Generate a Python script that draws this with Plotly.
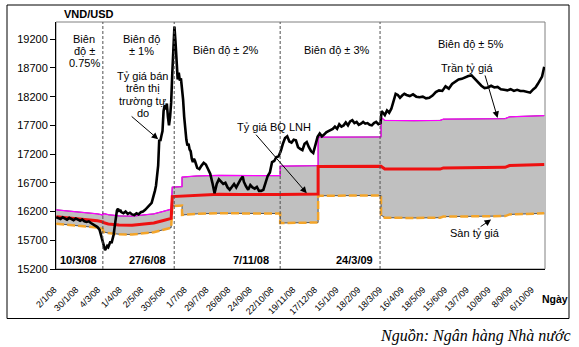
import plotly.graph_objects as go

# ---------------------------------------------------------------------------
# Data: VND/USD, trading sessions counted from 2/1/2008 (session 0)
# ---------------------------------------------------------------------------

# Free-market selling rate (Tỷ giá bán trên thị trường tự do)
free_day = [0, 2, 4, 6, 8, 10, 12, 14, 16, 18, 20, 22, 24, 26, 28, 30, 32, 34, 36, 38,
            40, 41, 42, 43, 44, 45, 46, 47, 48, 49, 50, 51, 52, 53, 54, 55, 56, 57, 58, 59,
            60, 62, 64, 66, 68, 70, 72, 74, 76, 78, 80, 82, 84, 86, 87, 88, 89, 90, 91, 92,
            93, 94, 95, 96, 97, 98, 99, 100, 101, 102, 103, 104, 105, 106, 107, 108, 109, 110, 111, 112,
            113, 114, 115, 116, 117, 118, 119, 120, 121, 122, 123, 124, 125, 126, 127, 128, 130, 132, 134, 136,
            138, 140, 142, 144, 145, 146, 147, 148, 150, 152, 154, 156, 158, 160, 162, 164, 166, 168, 170, 172,
            173, 175, 177, 179, 181, 183, 185, 187, 189, 191, 193, 195, 197, 199, 201, 203, 205, 207, 209, 211,
            213, 215, 217, 219, 221, 223, 225, 227, 229, 231, 233, 235, 237, 239, 241, 243, 245, 247, 249, 251,
            253, 255, 257, 259, 261, 263, 265, 267, 269, 271, 273, 275, 277, 279, 281, 283, 285, 287, 289, 291,
            293, 295, 297, 299, 300, 301, 303, 305, 307, 309, 311, 313, 315, 317, 319, 321, 323, 326, 329, 332,
            335, 338, 341, 344, 347, 350, 353, 356, 359, 362, 365, 368, 371, 374, 377, 380, 383, 386, 389, 392,
            395, 398, 401, 404, 407, 410, 413, 416, 419, 422, 425, 428, 431, 434, 437, 440, 442, 444, 446, 448,
            450]
free_rate = [16100, 16090, 16070, 16100, 16080, 16060, 16090, 16070, 16050, 16080, 16060, 16040, 16060, 16030, 16020, 16030, 16000, 15980, 15960, 15930,
             15880, 15800, 15740, 15680, 15590, 15530, 15560, 15600, 15580, 15640, 15680, 15650, 15720, 15800, 15950, 16100, 16220, 16250, 16200, 16230,
             16190, 16170, 16200, 16160, 16180, 16150, 16140, 16170, 16150, 16190, 16200, 16230, 16270, 16300, 16320, 16350, 16420, 16480, 16560, 16650,
             16800, 17000, 17450, 17430, 17520, 17600, 17950, 18050, 17980, 18080, 17850, 17700, 17850, 18100, 18600, 19150, 19420, 19150, 18800, 18500,
             18620, 18480, 18520, 18350, 18150, 17850, 17550, 17450, 17350, 17380, 17280, 17250, 17120, 17060, 17120, 17080, 16960, 16940, 17000, 17050,
             17020, 16930, 16860, 16700, 16580, 16520, 16600, 16680, 16760, 16720, 16680, 16700, 16620, 16580, 16640, 16680, 16620, 16700, 16760, 16810,
             16720, 16640, 16580, 16660, 16620, 16600, 16630, 16560, 16560, 16580, 16700, 16820, 16880, 17060, 17080, 17150, 17160, 17250, 17380, 17480,
             17510, 17420, 17400, 17450, 17440, 17320, 17290, 17270, 17380, 17410, 17320, 17250, 17220, 17380, 17500, 17560, 17510, 17540, 17580, 17600,
             17620, 17640, 17680, 17640, 17720, 17680, 17700, 17750, 17700, 17770, 17790, 17740, 17760, 17710, 17730, 17760, 17730, 17740, 17710, 17700,
             17740, 17760, 17720, 17740, 17950, 17930, 17880, 17960, 17920, 17990, 18120, 18250, 18230, 18180, 18220, 18250, 18230, 18210, 18240, 18200,
             18190, 18200, 18170, 18180, 18220, 18280, 18310, 18300, 18380, 18340, 18420, 18460, 18500, 18510, 18540, 18560, 18570, 18510, 18460, 18390,
             18350, 18360, 18390, 18360, 18370, 18330, 18320, 18310, 18330, 18300, 18320, 18300, 18300, 18290, 18270, 18330, 18360, 18420, 18480, 18550,
             18720]

# Interbank average rate (Tỷ giá BQ LNH) and the permitted band around it (%)
ib_day = [0, 10, 20, 30, 38, 43, 43, 48, 58, 70, 80, 90, 98, 106, 107, 116, 116, 130, 150, 170,
          190, 206.5, 206.5, 225, 241.5, 241.5, 260, 280, 299.5, 299.5, 303, 330, 354, 357, 380, 414,
          418, 440, 450]
ib_rate = [16110, 16090, 16080, 16060, 16040, 16020, 16010, 15985, 15965, 15960, 15975, 16000, 16040, 16080, 16460, 16470, 16470, 16490, 16500, 16495,
           16490, 16495, 16495, 16500, 16505, 16985, 16985, 16990, 16990, 16990, 16940, 16935, 16940, 16960, 16965, 16970,
           17000, 17010, 17020]
band_pct = [0.75, 0.75, 0.75, 0.75, 0.75, 0.75, 1, 1, 1, 1, 1, 1, 1, 1, 1, 1, 2, 2, 2, 2,
            2, 2, 3, 3, 3, 3, 3, 3, 3, 5, 5, 5, 5, 5, 5, 5,
            5, 5, 5]

# Ceiling / floor of the band (Trần / Sàn tỷ giá)
ceil_rate = [r * (1 + b / 100) for r, b in zip(ib_rate, band_pct)]
floor_rate = [r * (1 - b / 100) for r, b in zip(ib_rate, band_pct)]

# Dates on which the band was changed
regime_day = [43, 108.8, 206.5, 298.6]
regime_date = ["10/3/08", "27/6/08", "7/11/08", "24/3/09"]

# Category labels, one every 20 sessions
tick_day = list(range(0, 441, 20))
tick_text = ["2/1/08", "30/1/08", "4/3/08", "1/4/08", "2/5/08", "30/5/08", "1/7/08",
             "29/7/08", "26/8/08", "24/9/08", "22/10/08", "19/11/08", "17/12/08", "15/1/09",
             "18/2/09", "18/3/09", "16/4/09", "18/5/09", "15/6/09", "13/7/09", "10/8/09",
             "8/9/09", "6/10/09"]

y_ticks = list(range(15200, 19201, 500))

# ---------------------------------------------------------------------------
# Layout helpers (plot area in pixels)
# ---------------------------------------------------------------------------
W, H = 579, 347
L, R, T, B = 56, 545, 22, 269
SANS = "Arial, Liberation Sans, sans-serif"


def paper(x, y):
    return (x - L) / (R - L), (B - y) / (B - T)


fig = go.Figure()

# grey band between floor and ceiling
fig.add_trace(go.Scatter(x=ib_day, y=floor_rate, mode="lines",
                         line=dict(color="#303030", width=0.8), hoverinfo="skip"))
fig.add_trace(go.Scatter(x=ib_day, y=ceil_rate, mode="lines",
                         line=dict(color="#303030", width=0.8),
                         fill="tonexty", fillcolor="#c0c0c0", hoverinfo="skip"))
# ceiling and floor lines
fig.add_trace(go.Scatter(x=ib_day, y=ceil_rate, mode="lines",
                         line=dict(color="#ff00ff", width=1.3), name="Trần tỷ giá"))
fig.add_trace(go.Scatter(x=ib_day, y=floor_rate, mode="lines",
                         line=dict(color="#f4a52a", width=2.5, dash="8px,3px"), name="Sàn tỷ giá"))
# interbank average rate
fig.add_trace(go.Scatter(x=ib_day, y=ib_rate, mode="lines",
                         line=dict(color="#ee1111", width=3), name="Tỷ giá BQ LNH"))
# free-market rate
fig.add_trace(go.Scatter(x=free_day, y=free_rate, mode="lines",
                         line=dict(color="#000000", width=2.6), name="Tỷ giá tự do"))

shapes = []
# plot-area frame (top/right), outer frame
shapes.append(dict(type="rect", xref="paper", yref="paper", x0=0, x1=1, y0=0, y1=1,
                   line=dict(color="#808080", width=1), layer="below"))
ox0, oy0 = paper(7, 318.5)
ox1, oy1 = paper(569, 5)
shapes.append(dict(type="rect", xref="paper", yref="paper", x0=ox0, x1=ox1, y0=oy0, y1=oy1,
                   line=dict(color="#000000", width=1)))
# dashed separators at band changes
for d in regime_day:
    shapes.append(dict(type="line", xref="x", yref="paper", x0=d, x1=d, y0=0, y1=1,
                       line=dict(color="#505050", width=1, dash="3px,2px")))

annotations = []


def text(s, x, y, size=11, bold=False, xanchor="center", family=SANS, italic=False):
    px_, py_ = paper(x, y)
    if bold:
        s = "<b>" + s + "</b>"
    if italic:
        s = "<i>" + s + "</i>"
    annotations.append(dict(text=s, xref="paper", yref="paper", x=px_, y=py_,
                            xanchor=xanchor, yanchor="middle", showarrow=False,
                            font=dict(family=family, size=size, color="black")))


# band labels
text("Biên", 84, 38.5)
text("độ ±", 84, 51)
text("0.75%", 84, 63.5)
text("Biên độ", 141, 38.5)
text("± 1%", 141, 51)
text("Biên độ ± 2%", 225.5, 50)
text("Biên độ ± 3%", 336.7, 50)
text("Biên độ ± 5%", 471, 43.5)
# series callouts
for i, s in enumerate(["Tỷ giá bán", "trên thị", "trường tự", "do"]):
    text(s, 142.5, 76 + 12.4 * i)
text("Trần tỷ giá", 467, 68.5)
text("Tỷ giá BQ LNH", 274, 127)
text("Sàn tỷ giá", 475, 233)
# axis titles and source
text("VND/USD", 62, 13.5, size=11, bold=True, xanchor="left")
text("Ngày", 540, 299, size=10.5, bold=True, xanchor="left")
text("Nguồn: Ngân hàng Nhà nước", 573, 336, size=16, xanchor="right",
     family="Liberation Serif, Times New Roman, serif", italic=True)

# dates of band changes, just left of each separator
for d, s, sh in zip(regime_day, regime_date, [-4, -6, -9, -5]):
    annotations.append(dict(text="<b>" + s + "</b>", xref="x", yref="paper", x=d,
                            y=paper(0, 259.5)[1], xanchor="right", yanchor="middle",
                            xshift=sh, showarrow=False,
                            font=dict(family=SANS, size=11, color="black")))

# arrows pointing at the series
for hx, hy, ax, ay in [(94, 17460, -28, -24),
                       (231, 16520, -52, -60),
                       (407, 17830, -13, -44),
                       (401, 16060, -12, 8)]:
    annotations.append(dict(text="", x=hx, y=hy, xref="x", yref="y", ax=ax, ay=ay,
                            showarrow=True, arrowhead=2, arrowsize=1.3, arrowwidth=1,
                            arrowcolor="black"))

fig.update_layout(
    width=W, height=H,
    margin=dict(l=L, r=W - R, t=T, b=H - B, pad=0),
    paper_bgcolor="white", plot_bgcolor="white",
    showlegend=False,
    font=dict(family=SANS, color="black"),
    xaxis=dict(range=[-0.2, 450.7], tickmode="array", tickvals=tick_day, ticktext=tick_text,
               tickangle=-45, ticks="", showline=True, linecolor="black", linewidth=1,
               showgrid=False, zeroline=False, tickfont=dict(family=SANS, size=9, color="black"),
               ticklabelshift=-2, ticklabelstandoff=11),
    yaxis=dict(range=[15200, 19500], tickmode="array", tickvals=y_ticks,
               ticktext=[str(v) for v in y_ticks],
               ticks="outside", ticklen=5, tickcolor="black", showline=True,
               linecolor="black", linewidth=1, showgrid=False, zeroline=False,
               tickfont=dict(family=SANS, size=11, color="black")),
    shapes=shapes,
    annotations=annotations,
)

fig.write_html("out.html")
